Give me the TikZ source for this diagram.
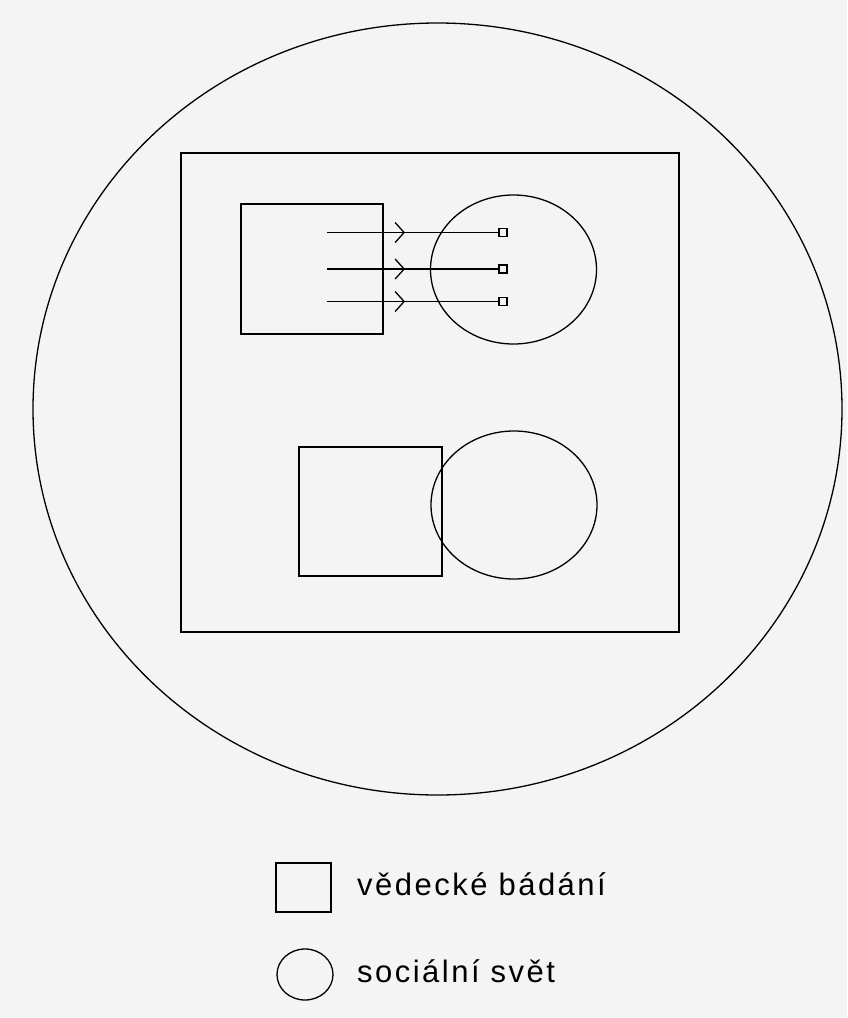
\documentclass[tikz,border=0pt]{standalone}
\usepackage{fontspec}
\setmainfont{Liberation Sans}
\usetikzlibrary{arrows.meta,decorations.markings}
\definecolor{bg}{HTML}{F4F4F4}
\begin{document}
\begin{tikzpicture}[x=1pt,y=-1pt,
  thin line/.style={draw=black,line width=1.3pt},
  box/.style={draw=black,line width=1.6pt,fill=none,inner sep=0pt,outer sep=0pt},
  oval/.style={draw=black,line width=1.3pt,inner sep=0pt,outer sep=0pt},
  tip/.style={draw=black,line width=1.3pt,minimum size=8pt,inner sep=0pt,outer sep=0pt},
  flow/.style={draw=black,line width=1.5pt,postaction={decorate},
    decoration={markings,mark=at position 78pt with {\arrow{Straight Barb[length=9pt,width=20pt,line width=1.3pt]}}}},
  legend/.style={anchor=base west,inner sep=0pt,font=\fontsize{31}{36}\selectfont\addfontfeature{LetterSpace=8}}
]
\fill[bg] (0,0) rectangle (847,1018);
\useasboundingbox (0,0) rectangle (847,1018);
% outer circle
\draw[thin line] (437.5,409) ellipse [x radius=404.5, y radius=386];
% inner rectangle
\draw[box] (181,153) rectangle (679,632);
% top pair
\draw[box] (241,204) rectangle (383,334);
\draw[oval] (513.5,269.5) ellipse [x radius=83, y radius=74.5];
\node[tip] (s1) at (503,232.5) {};
\node[tip] (s2) at (503,269) {};
\node[tip] (s3) at (503,301.5) {};
\coordinate (a1) at (327,232.5);
\coordinate (a2) at (327,269);
\coordinate (a3) at (327,301.5);
\draw[flow] (a1) -- (s1.west);
\draw[flow] (a2) -- (s2.west);
\draw[flow] (a3) -- (s3.west);
% bottom pair
\draw[box] (299,447) rectangle (442,576);
\draw[oval] (514,505) ellipse [x radius=83, y radius=74];
% legend
\draw[box] (276,863) rectangle (331,912);
\draw[oval] (305,974.5) ellipse [x radius=28, y radius=25.5];
\node[legend] (l1) at (357,895) {vědecké bádání};
\node[legend] (l2) at (357,982) {sociální svět};
\end{tikzpicture}
\end{document}
